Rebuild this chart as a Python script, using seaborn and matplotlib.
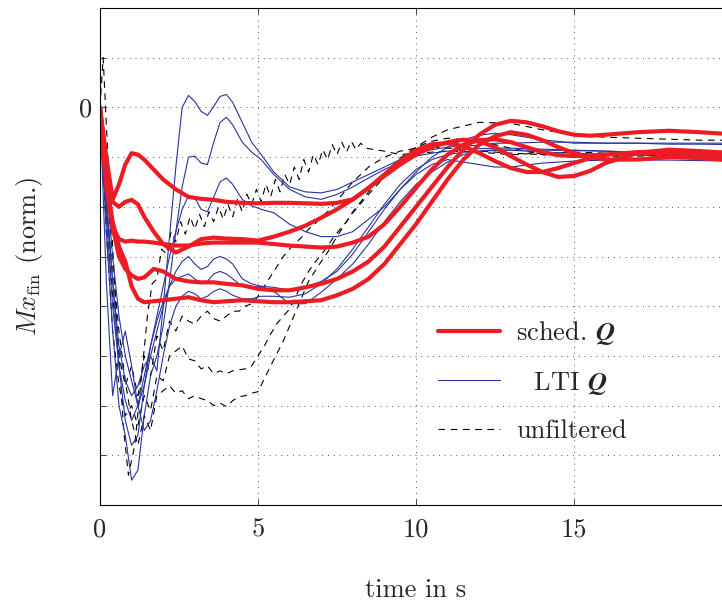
import warnings
import numpy as np
import pandas as pd
import matplotlib
matplotlib.use("Agg")
import matplotlib.pyplot as plt
import seaborn as sns
from matplotlib.lines import Line2D

warnings.filterwarnings("ignore")

# ---- sched. Q (thick red) ----
t_red = [0, .2, .4, .6, .8, 1.0, 1.2, 1.4, 1.7, 2.0,
         2.4, 2.8, 3.2, 3.6, 4.0, 4.5, 5, 5.5, 6, 6.5,
         7, 7.5, 8, 8.5, 9, 9.5, 10, 10.5, 11, 11.5,
         12, 12.5, 13, 13.5, 14, 14.5, 15, 15.5, 16, 17,
         18, 19, 20]
red_a = [0, -1.0, -1.85, -1.55, -1.15, -0.92, -0.95, -1.05, -1.25, -1.45,
         -1.65, -1.8, -1.84, -1.86, -1.9, -1.92, -1.93, -1.92, -1.92, -1.93,
         -1.94, -1.92, -1.85, -1.62, -1.35, -1.08, -0.86, -0.74, -0.72, -0.78,
         -0.92, -1.08, -1.22, -1.3, -1.3, -1.22, -1.12, -1.02, -0.95, -0.9,
         -0.88, -0.9, -0.92]
red_b = [0, -1.2, -1.9, -2.0, -1.9, -1.86, -1.95, -2.2, -2.5, -2.75,
         -2.92, -2.8, -2.65, -2.62, -2.64, -2.65, -2.68, -2.6, -2.5, -2.38,
         -2.22, -2.05, -1.85, -1.62, -1.38, -1.15, -0.95, -0.8, -0.7, -0.65,
         -0.68, -0.8, -0.98, -1.15, -1.3, -1.4, -1.38, -1.28, -1.12, -0.92,
         -0.85, -0.88, -0.92]
red_c = [0, -1.6, -2.4, -2.65, -2.7, -2.68, -2.7, -2.7, -2.72, -2.75,
         -2.78, -2.78, -2.74, -2.72, -2.72, -2.72, -2.72, -2.75, -2.78, -2.8,
         -2.82, -2.8, -2.72, -2.6, -2.35, -2.0, -1.62, -1.25, -0.95, -0.75,
         -0.66, -0.64, -0.7, -0.8, -0.9, -0.96, -0.98, -0.97, -0.95, -0.92,
         -0.92, -0.95, -0.98]
red_d = [0, -1.5, -2.4, -3.0, -3.25, -3.38, -3.45, -3.42, -3.25, -3.3,
         -3.45, -3.5, -3.52, -3.52, -3.55, -3.58, -3.65, -3.68, -3.68, -3.62,
         -3.55, -3.45, -3.3, -3.1, -2.8, -2.4, -2.0, -1.6, -1.2, -0.85,
         -0.55, -0.35, -0.27, -0.3, -0.38, -0.48, -0.55, -0.57, -0.55, -0.5,
         -0.47, -0.5, -0.54]
red_e = [0, -1.5, -2.3, -2.8, -3.1, -3.6, -3.85, -3.92, -3.9, -3.88,
         -3.85, -3.82, -3.88, -3.92, -3.9, -3.88, -3.9, -3.92, -3.92, -3.9,
         -3.88, -3.78, -3.65, -3.45, -3.15, -2.75, -2.35, -1.9, -1.45, -1.05,
         -0.75, -0.58, -0.5, -0.55, -0.66, -0.8, -0.92, -1.0, -1.05, -1.05,
         -1.0, -1.02, -1.06]

# ---- LTI Q (thin blue) ----
t_blue = [0, .2, .4, .6, .8, 1.0, 1.2, 1.4, 1.6, 1.8,
          2.0, 2.2, 2.4, 2.6, 2.8, 3.0, 3.2, 3.4, 3.6, 3.8,
          4.0, 4.2, 4.5, 4.8, 5.1, 5.5, 6.0, 6.5, 7.0, 7.5,
          8.0, 8.5, 9.0, 9.5, 10, 10.5, 11, 11.5, 12, 12.5,
          13, 14, 15, 16, 17, 18, 19, 20]
blue_1 = [0, -2.0, -3.5, -4.8, -5.5, -5.8, -5.6, -5.2, -5.0, -5.3,
          -4.0, -2.6, -1.2, 0.0, 0.24, 0.12, -0.08, -0.16, 0.02, 0.22,
          0.26, 0.1, -0.3, -0.7, -0.95, -1.3, -1.6, -1.7, -1.72, -1.65,
          -1.5, -1.35, -1.2, -1.05, -0.92, -0.85, -0.8, -0.78, -0.76, -0.72,
          -0.72, -0.7, -0.7, -0.72, -0.72, -0.74, -0.74, -0.75]
blue_2 = [0, -2.5, -4.5, -6.0, -6.6, -7.5, -7.3, -6.2, -5.4, -5.0,
          -4.4, -3.5, -2.5, -1.6, -1.0, -0.98, -1.12, -1.15, -0.7, -0.3,
          -0.2, -0.35, -0.7, -0.9, -1.05, -1.35, -1.65, -1.8, -1.85, -1.75,
          -1.6, -1.42, -1.25, -1.1, -0.98, -0.92, -0.88, -0.85, -0.83, -0.82,
          -0.82, -0.84, -0.86, -0.88, -0.9, -0.92, -0.94, -0.95]
blue_3 = [0, -1.8, -3.5, -5.2, -6.3, -6.8, -6.6, -5.6, -4.8, -4.2,
          -3.6, -3.0, -2.5, -2.05, -1.78, -1.82, -2.05, -2.1, -1.8, -1.5,
          -1.42, -1.55, -1.85, -1.98, -2.05, -2.12, -2.35, -2.5, -2.6, -2.6,
          -2.5, -2.25, -2.0, -1.65, -1.3, -1.0, -0.8, -0.65, -0.56, -0.52,
          -0.55, -0.65, -0.72, -0.72, -0.72, -0.72, -0.72, -0.72]
blue_4 = [0, -3.5, -5.8, -5.0, -4.5, -5.2, -6.0, -5.6, -5.0, -4.5,
          -4.0, -3.6, -3.3, -3.1, -3.0, -3.15, -3.26, -3.2, -3.05, -3.0,
          -3.05, -3.15, -3.45, -3.55, -3.6, -3.7, -3.95, -3.95, -3.72, -3.45,
          -3.15, -2.75, -2.3, -1.9, -1.55, -1.3, -1.1, -0.95, -0.88, -0.85,
          -0.86, -0.9, -0.92, -0.95, -0.96, -0.98, -1.0, -1.02]
blue_5 = [0, -2.2, -4.0, -5.2, -5.9, -6.3, -6.0, -5.4, -4.8, -4.3,
          -3.9, -3.6, -3.45, -3.4, -3.35, -3.45, -3.55, -3.5, -3.35, -3.3,
          -3.35, -3.45, -3.6, -3.62, -3.6, -3.62, -3.68, -3.62, -3.5, -3.3,
          -2.95, -2.5, -2.05, -1.65, -1.35, -1.15, -1.05, -1.1, -1.15, -1.2,
          -1.2, -1.12, -1.08, -1.06, -1.06, -1.06, -1.07, -1.08]
blue_6 = [0, -1.5, -3.0, -4.2, -5.0, -5.5, -6.0, -6.5, -6.3, -5.7,
          -5.0, -4.4, -4.0, -3.8, -3.7, -3.75, -3.85, -3.8, -3.7, -3.65,
          -3.7, -3.78, -3.85, -3.85, -3.8, -3.8, -3.82, -3.75, -3.55, -3.25,
          -2.85, -2.4, -1.95, -1.55, -1.25, -1.05, -0.95, -0.9, -0.88, -0.87,
          -0.86, -0.86, -0.87, -0.88, -0.9, -0.9, -0.91, -0.92]

# ---- unfiltered (black dashed) ----
t_k1 = [0, 0.1, 0.25, 0.5, 0.75, 0.9, 1.1, 1.3,
        1.5, 1.65, 1.8, 1.95, 2.1, 2.25, 2.4, 2.55, 2.7, 2.85,
        3.0, 3.15, 3.3, 3.45, 3.6, 3.75, 3.9, 4.05, 4.2, 4.35,
        4.5, 4.65, 4.8, 4.95, 5.1, 5.25, 5.4, 5.55, 5.7, 5.85,
        6.0, 6.15, 6.3, 6.45, 6.6, 6.75, 6.9, 7.05, 7.2, 7.35,
        7.5, 7.65, 7.8, 7.95, 8.1, 8.25, 8.4,
        9, 9.5, 10, 11, 12, 13, 14, 15, 16, 17, 18, 19, 20]
dash_1 = [0, 1.0, -1.0, -4.0, -6.5, -7.4, -6.8, -5.5,
          -4.2, -3.55, -3.45, -2.85, -2.95, -2.5, -2.7, -2.3, -2.55, -2.2,
          -2.45, -2.15, -2.4, -2.1, -2.3, -2.0, -2.25, -1.95, -2.2, -1.85,
          -2.1, -1.75, -1.95, -1.65, -1.9, -1.55, -1.8, -1.45, -1.7, -1.35,
          -1.55, -1.2, -1.45, -1.05, -1.3, -0.95, -1.15, -0.85, -1.05, -0.75,
          -0.95, -0.7, -0.9, -0.68, -0.85, -0.72, -0.82,
          -0.88, -0.95, -0.92, -0.88, -0.9, -0.95, -0.92, -0.9, -0.92, -0.94, -0.92, -0.92, -0.93]

t_dash = [0, .2, .4, .6, .8, 1.0, 1.2, 1.4, 1.6, 1.8,
          2.0, 2.2, 2.4, 2.6, 2.8, 3.0, 3.2, 3.4, 3.6, 3.8,
          4.0, 4.2, 4.4, 4.6, 4.8, 5.0, 5.2, 5.4, 5.6, 5.8,
          6.0, 6.2, 6.4, 6.6, 6.8, 7.0, 7.2, 7.4, 7.6, 7.8,
          8.0,
          8.5, 9, 9.5, 10, 10.5, 11,
          12, 13, 14, 15, 16, 17, 18, 19, 20]
dash_2 = [0, -2.0, -3.8, -5.0, -5.6, -5.2, -5.8, -5.0, -5.4, -4.6,
          -4.9, -4.3, -4.5, -4.2, -4.3, -4.36, -4.2, -4.1, -4.25, -4.3,
          -4.2, -4.1, -4.1, -4.0, -3.95, -3.8, -3.6, -3.4, -3.2, -3.0,
          -2.85, -2.72, -2.6, -2.45, -2.35, -2.2, -2.1, -1.95, -1.8, -1.65,
          -1.5,
          -1.2, -1.0, -0.88, -0.82, -0.8, -0.82,
          -0.88, -0.92, -0.95, -0.95, -0.94, -0.94, -0.95, -0.96, -0.96]
dash_3 = [0, -2.5, -4.5, -5.6, -6.2, -6.0, -6.4, -5.8, -6.1, -5.4,
          -5.5, -5.0, -4.9, -4.8, -5.06, -5.1, -5.26, -5.2, -5.36, -5.3,
          -5.36, -5.3, -5.28, -5.26, -5.2, -5.0, -4.8, -4.56, -4.35, -4.2,
          -4.06, -3.8, -3.52, -3.3, -3.12, -2.96, -2.8, -2.6, -2.45, -2.3,
          -2.1,
          -1.7, -1.32, -1.02, -0.8, -0.68, -0.62,
          -0.68, -0.82, -0.95, -1.0, -1.0, -0.98, -0.97, -0.98, -0.99]
dash_4 = [0, -1.5, -3.2, -4.5, -5.5, -6.3, -6.8, -6.2, -6.5, -5.8,
          -5.7, -5.6, -5.75, -5.7, -5.86, -5.8, -5.86, -5.9, -6.0, -5.95,
          -6.02, -5.9, -5.82, -5.8, -5.75, -5.72, -5.46, -5.2, -4.95, -4.7,
          -4.4, -4.1, -3.8, -3.5, -3.3, -3.1, -2.92, -2.7, -2.5, -2.3,
          -2.12,
          -1.75, -1.4, -1.08, -0.8, -0.6, -0.45,
          -0.3, -0.32, -0.45, -0.55, -0.6, -0.62, -0.64, -0.66, -0.66]

y_ticks = [-8, -7, -6, -5, -4, -3, -2, -1, 0, 1, 2]
y_ticklabels = ["", "", "", "", "", "", "", "", "0", "", ""]
x_ticks = [0, 5, 10, 15, 20]
x_ticklabels = ["0", "5", "10", "15", ""]


def frame(curves):
    parts = []
    for name, (t, y) in curves.items():
        parts.append(pd.DataFrame({"t": t, "y": y, "curve": name}))
    return pd.concat(parts, ignore_index=True)


df_red = frame({"a": (t_red, red_a), "b": (t_red, red_b), "c": (t_red, red_c),
                "d": (t_red, red_d), "e": (t_red, red_e)})
df_blue = frame({"1": (t_blue, blue_1), "2": (t_blue, blue_2), "3": (t_blue, blue_3),
                 "4": (t_blue, blue_4), "5": (t_blue, blue_5), "6": (t_blue, blue_6)})
df_dash = frame({"k1": (t_k1, dash_1), "k2": (t_dash, dash_2),
                 "k3": (t_dash, dash_3), "k4": (t_dash, dash_4)})

sns.set_style("ticks")
plt.rcParams.update({
    "font.family": "cmr10",
    "mathtext.fontset": "cm",
    "axes.unicode_minus": False,
    "axes.formatter.use_mathtext": True,
    "font.size": 19,
})

RED = "#ec1c24"
BLUE = "#27359c"

fig = plt.figure(figsize=(7.22, 6.08), dpi=100)
ax = fig.add_axes([100 / 722, 103 / 608, 632 / 722, 497 / 608])

sns.lineplot(data=df_dash, x="t", y="y", units="curve", estimator=None, sort=False,
             color="black", lw=0.8, linestyle=(0, (6, 5)), ax=ax, legend=False)
sns.lineplot(data=df_blue, x="t", y="y", units="curve", estimator=None, sort=False,
             color=BLUE, lw=0.8, ax=ax, legend=False)
sns.lineplot(data=df_red, x="t", y="y", units="curve", estimator=None, sort=False,
             color=RED, lw=3, ax=ax, legend=False)

ax.set_xlim(0, 20)
ax.set_ylim(-8, 2)
ax.set_xticks(x_ticks)
ax.set_xticklabels(x_ticklabels)
ax.set_yticks(y_ticks)
ax.set_yticklabels(y_ticklabels)
ax.grid(True, linestyle=(0, (1, 5)), color="0.35", lw=0.7)
ax.tick_params(direction="in", top=True, right=True, length=4, width=0.6, labelsize=19)
ax.tick_params(axis="x", pad=9)
ax.tick_params(axis="y", pad=6)
for s in ax.spines.values():
    s.set_linewidth(0.8)
    s.set_color("black")

ax.set_xlabel("time in s", fontsize=19, labelpad=27)
ax.set_ylabel(r"$Mx_{\mathrm{fin}}$ (norm.)", fontsize=19, labelpad=24)

handles = [Line2D([], [], color=RED, lw=3),
           Line2D([], [], color=BLUE, lw=0.8),
           Line2D([], [], color="black", lw=0.8, linestyle=(0, (6, 5)))]
labels = [r"sched. $\boldsymbol{Q}$", r"  LTI $\boldsymbol{Q}$", "unfiltered"]
ax.legend(handles, labels, loc="center left", bbox_to_anchor=(438 / 722, 1 - 381 / 608),
          bbox_transform=fig.transFigure, frameon=False, fontsize=19,
          handlelength=2.35, handletextpad=0.6, labelspacing=0.85,
          borderpad=0, borderaxespad=0)

fig.savefig("out.png", dpi=100)
